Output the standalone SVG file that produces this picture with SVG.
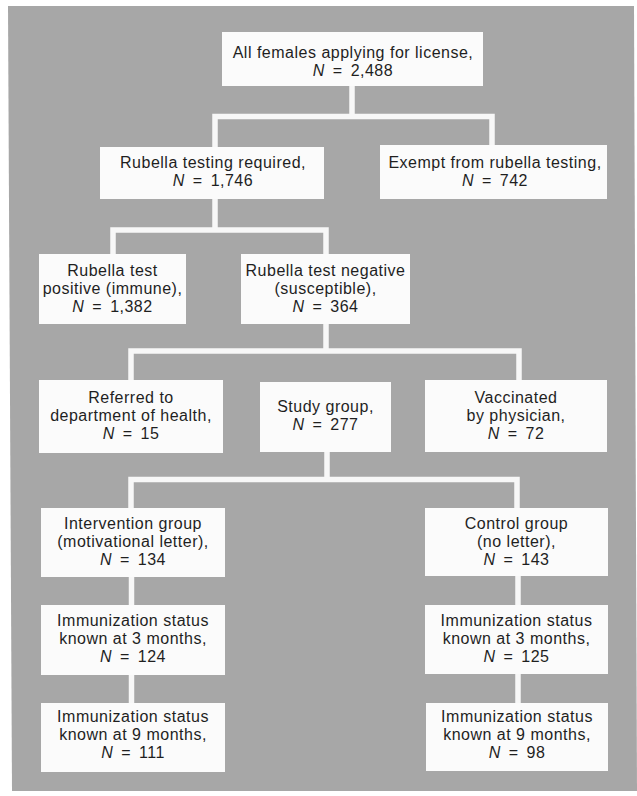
<svg xmlns="http://www.w3.org/2000/svg" width="637" height="796" viewBox="0 0 637 796">
<style>
.box{fill:#fbfbfb;}
.t{font-family:"Liberation Sans",Arial,Helvetica,sans-serif;font-size:16px;letter-spacing:0.5px;fill:#1f1f1f;text-anchor:middle;}
.w{word-spacing:3px;}
.n{font-style:italic;}
.c{fill:none;stroke:#f7f7f7;stroke-width:5.5;stroke-linejoin:miter;stroke-linecap:butt;}
</style>
<rect x="0" y="0" width="637" height="796" fill="#ffffff"/>
<polygon points="8,6 634,6 637,791 12,791" fill="#a7a7a7"/>
<g id="connectors">
<path class="c" d="M352,86 V116.5"/>
<path class="c" d="M215,147 V116.5 H492 V145"/>
<path class="c" d="M215,199 V230"/>
<path class="c" d="M113,254 V230 H326 V254"/>
<path class="c" d="M326,324 V351"/>
<path class="c" d="M131,380 V351 H519 V380"/>
<path class="c" d="M327,452 V479.5"/>
<path class="c" d="M131,508 V479.5 H517 V508"/>
<path class="c" d="M131.5,577 V605"/>
<path class="c" d="M131.5,675 V703"/>
<path class="c" d="M518,576 V605"/>
<path class="c" d="M518,674 V703"/>
</g>
<g id="all-females">
<rect class="box" x="222" y="32" width="261" height="54"/>
<text class="t" x="353" y="57.5">All females applying for license,</text>
<text class="t w" x="353" y="75.5"><tspan class="n">N</tspan> = 2,488</text>
</g>
<g id="testing-required">
<rect class="box" x="100" y="147" width="224" height="52"/>
<text class="t" x="213" y="167.5">Rubella testing required,</text>
<text class="t w" x="213" y="185.5"><tspan class="n">N</tspan> = 1,746</text>
</g>
<g id="exempt">
<rect class="box" x="380" y="145" width="227" height="54"/>
<text class="t" x="495" y="167.5">Exempt from rubella testing,</text>
<text class="t w" x="495" y="185.5"><tspan class="n">N</tspan> = 742</text>
</g>
<g id="test-positive">
<rect class="box" x="39" y="254" width="147" height="70"/>
<text class="t" x="112.5" y="275.5">Rubella test</text>
<text class="t" x="112.5" y="293.5">positive (immune),</text>
<text class="t w" x="112.5" y="311.5"><tspan class="n">N</tspan> = 1,382</text>
</g>
<g id="test-negative">
<rect class="box" x="241" y="254" width="169" height="70"/>
<text class="t" x="325.5" y="275.5">Rubella test negative</text>
<text class="t" x="325.5" y="293.5">(susceptible),</text>
<text class="t w" x="325.5" y="311.5"><tspan class="n">N</tspan> = 364</text>
</g>
<g id="referred">
<rect class="box" x="39" y="380" width="184" height="73"/>
<text class="t" x="131" y="403">Referred to</text>
<text class="t" x="131" y="421">department of health,</text>
<text class="t w" x="131" y="439"><tspan class="n">N</tspan> = 15</text>
</g>
<g id="study-group">
<rect class="box" x="260" y="382" width="131" height="70"/>
<text class="t" x="325.5" y="412">Study group,</text>
<text class="t w" x="325.5" y="430"><tspan class="n">N</tspan> = 277</text>
</g>
<g id="vaccinated">
<rect class="box" x="425" y="380" width="182" height="72"/>
<text class="t" x="516" y="403">Vaccinated</text>
<text class="t" x="516" y="421">by physician,</text>
<text class="t w" x="516" y="439"><tspan class="n">N</tspan> = 72</text>
</g>
<g id="intervention">
<rect class="box" x="41" y="508" width="184" height="69"/>
<text class="t" x="133" y="529">Intervention group</text>
<text class="t" x="133" y="547">(motivational letter),</text>
<text class="t w" x="133" y="565"><tspan class="n">N</tspan> = 134</text>
</g>
<g id="control">
<rect class="box" x="425" y="508" width="183" height="68"/>
<text class="t" x="516.5" y="529">Control group</text>
<text class="t" x="516.5" y="547">(no letter),</text>
<text class="t w" x="516.5" y="565"><tspan class="n">N</tspan> = 143</text>
</g>
<g id="intervention-3m">
<rect class="box" x="41" y="605" width="184" height="70"/>
<text class="t" x="133" y="626">Immunization status</text>
<text class="t" x="133" y="644">known at 3 months,</text>
<text class="t w" x="133" y="662"><tspan class="n">N</tspan> = 124</text>
</g>
<g id="control-3m">
<rect class="box" x="425" y="605" width="183" height="69"/>
<text class="t" x="516.5" y="626">Immunization status</text>
<text class="t" x="516.5" y="644">known at 3 months,</text>
<text class="t w" x="516.5" y="662"><tspan class="n">N</tspan> = 125</text>
</g>
<g id="intervention-9m">
<rect class="box" x="41" y="703" width="184" height="69"/>
<text class="t" x="133" y="722">Immunization status</text>
<text class="t" x="133" y="740">known at 9 months,</text>
<text class="t w" x="133" y="758"><tspan class="n">N</tspan> = 111</text>
</g>
<g id="control-9m">
<rect class="box" x="426" y="703" width="182" height="68"/>
<text class="t" x="517" y="722">Immunization status</text>
<text class="t" x="517" y="740">known at 9 months,</text>
<text class="t w" x="517" y="758"><tspan class="n">N</tspan> = 98</text>
</g>
</svg>
